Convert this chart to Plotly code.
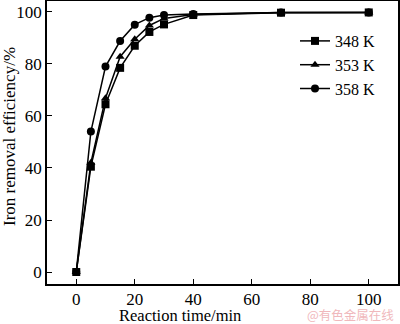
import plotly.graph_objects as go

time_min = [0, 5, 10, 15, 20, 25, 30, 40, 70, 100]
eff_348 = [0, 40.5, 64.5, 78.5, 87, 92.3, 95.2, 98.8, 99.7, 99.8]
eff_353 = [0, 42, 66.8, 82.8, 89.5, 94.8, 97.5, 99, 99.8, 99.8]
eff_358 = [0, 54, 79, 88.8, 95.1, 97.8, 98.8, 99.2, 99.8, 99.8]
series = [("348 K", eff_348, "square"), ("353 K", eff_353, "triangle-up"), ("358 K", eff_358, "circle")]

font = "Liberation Serif"
W, H = 400, 324
L, R, T, B = 47, 2, 1, 40
pw, ph = W - L - R, H - T - B

fig = go.Figure()
for name, vals, sym in series:
    fig.add_trace(go.Scatter(x=time_min, y=vals, name=name, mode="lines+markers",
                             line=dict(color="black", width=1.5),
                             marker=dict(symbol=sym, size=8, color="black")))

axis_common = dict(showline=True, linecolor="black", linewidth=1.5, mirror=True,
                   ticks="inside", ticklen=5, tickwidth=1.2, tickcolor="black",
                   showgrid=False, zeroline=False, automargin=False,
                   tickfont=dict(family=font, size=17, color="black"))
fig.update_xaxes(range=[-10, 110], tickvals=[0, 20, 40, 60, 80, 100], ticklabelstandoff=-1,
                 **axis_common)
fig.update_yaxes(range=[-4.6, 104.2], tickvals=[0, 20, 40, 60, 80, 100], ticklabelstandoff=0,
                 **axis_common)

def px_x(p):
    return (p - L) / pw

def px_y(p):
    return 1 - (p - T) / ph

fig.update_layout(width=W, height=H, margin=dict(l=L, r=R, t=T, b=B),
                  plot_bgcolor="white", paper_bgcolor="white",
                  showlegend=True,
                  legend=dict(x=px_x(295), y=px_y(24), xanchor="left", yanchor="top",
                              bgcolor="rgba(0,0,0,0)", tracegroupgap=0, itemwidth=30,
                              font=dict(family=font, size=16, color="black")),
                  annotations=[
                      dict(text="Reaction time/min", xref="paper", yref="paper",
                           x=px_x(180), y=px_y(315.5), xanchor="center", yanchor="middle",
                           showarrow=False, font=dict(family=font, size=16.5, color="black")),
                      dict(text="Iron removal efficiency/%", xref="paper", yref="paper",
                           x=px_x(9), y=px_y(137), xanchor="center", yanchor="middle",
                           textangle=-90,
                           showarrow=False, font=dict(family=font, size=17, color="black")),
                      dict(text="@有色金属在线", xref="paper", yref="paper",
                           x=px_x(396), y=px_y(314.5), xanchor="right", yanchor="middle",
                           showarrow=False,
                           font=dict(family="Noto Sans CJK SC", size=12.5, color="#f0b8bc"))])
fig.write_html("out.html", config={"displayModeBar": False},
               post_script="document.body.style.margin='0';document.body.style.padding='0';")
